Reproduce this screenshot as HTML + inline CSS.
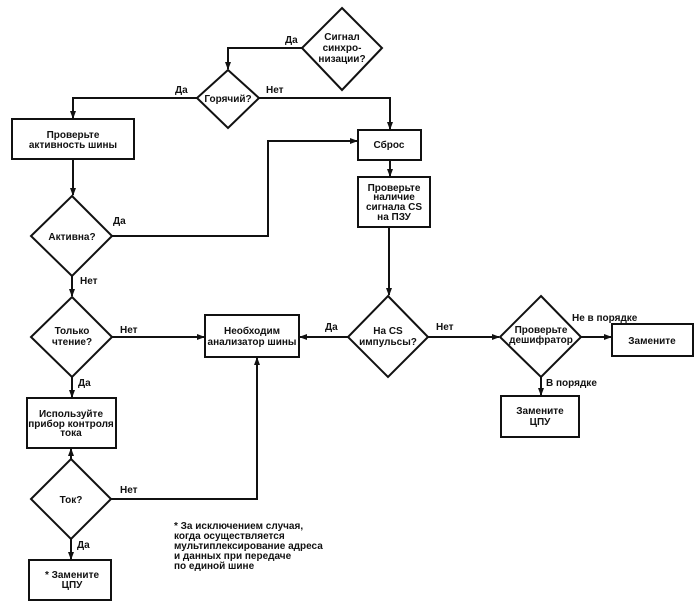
<!DOCTYPE html>
<html><head><meta charset="utf-8"><style>
html,body{margin:0;padding:0;background:#fff;}
svg{display:block;}
text{font-family:"Liberation Sans",sans-serif;font-size:10px;font-weight:bold;fill:#111;}
</style></head><body>
<svg width="700" height="607" viewBox="0 0 700 607" xmlns="http://www.w3.org/2000/svg">
<defs><marker id="a" markerWidth="8" markerHeight="8" refX="7" refY="4" orient="auto" markerUnits="userSpaceOnUse"><path d="M0,1 L8,4 L0,7 z" fill="#111"/></marker></defs>
<g fill="none" stroke="#111" stroke-width="2">
<polygon points="342,8 382,48 342,90 302,48"/>
<polygon points="228,70 259,98 228,128 197,98"/>
<rect x="12" y="119" width="122" height="40"/>
<polygon points="72,196 112,236 72,276 31,236"/>
<rect x="358" y="130" width="63" height="30"/>
<rect x="358" y="177" width="72" height="50"/>
<polygon points="388,296 428,337 388,377 348,337"/>
<rect x="205" y="315" width="94" height="42"/>
<polygon points="72,297 112,337 72,377 31,337"/>
<rect x="27" y="398" width="89" height="50"/>
<polygon points="71,459 111,499 71,539 31,499"/>
<rect x="29" y="560" width="82" height="40"/>
<polygon points="541,296 581,337 541,377 500,337"/>
<rect x="612" y="324" width="81" height="32"/>
<rect x="501" y="396" width="78" height="41"/>
<polyline points="302,48 228,48 228,69" marker-end="url(#a)"/>
<polyline points="197,98 73,98 73,118" marker-end="url(#a)"/>
<polyline points="259,98 390,98 390,129" marker-end="url(#a)"/>
<line x1="73" y1="159" x2="73" y2="195" marker-end="url(#a)"/>
<polyline points="112,236 268,236 268,141 357,141" marker-end="url(#a)"/>
<line x1="390" y1="160" x2="390" y2="176" marker-end="url(#a)"/>
<line x1="389" y1="227" x2="389" y2="295" marker-end="url(#a)"/>
<line x1="72" y1="276" x2="72" y2="296" marker-end="url(#a)"/>
<line x1="112" y1="337" x2="204" y2="337" marker-end="url(#a)"/>
<line x1="348" y1="337" x2="300" y2="337" marker-end="url(#a)"/>
<line x1="428" y1="337" x2="499" y2="337" marker-end="url(#a)"/>
<line x1="581" y1="337" x2="611" y2="337" marker-end="url(#a)"/>
<line x1="541" y1="377" x2="541" y2="395" marker-end="url(#a)"/>
<line x1="72" y1="377" x2="72" y2="397" marker-end="url(#a)"/>
<line x1="71" y1="459" x2="71" y2="449" marker-end="url(#a)"/>
<polyline points="111,499 257,499 257,358" marker-end="url(#a)"/>
<line x1="71" y1="539" x2="71" y2="559" marker-end="url(#a)"/>
</g>
<g text-anchor="middle">
<text x="342" y="40">Сигнал</text><text x="342" y="51">синхро-</text><text x="342" y="62">низации?</text>
<text x="228" y="102">Горячий?</text>
<text x="73" y="138">Проверьте</text><text x="73" y="148">активность шины</text>
<text x="72" y="240">Активна?</text>
<text x="389" y="148">Сброс</text>
<text x="394" y="191">Проверьте</text><text x="394" y="200">наличие</text><text x="394" y="210">сигнала CS</text><text x="394" y="220">на ПЗУ</text>
<text x="388" y="334">На CS</text><text x="388" y="345">импульсы?</text>
<text x="252" y="334">Необходим</text><text x="252" y="345">анализатор шины</text>
<text x="72" y="334">Только</text><text x="72" y="345">чтение?</text>
<text x="71" y="417">Используйте</text><text x="71" y="427">прибор контроля</text><text x="71" y="436">тока</text>
<text x="71" y="503">Ток?</text>
<text x="72" y="578">* Замените</text><text x="72" y="588">ЦПУ</text>
<text x="541" y="333">Проверьте</text><text x="541" y="343">дешифратор</text>
<text x="652" y="344">Замените</text>
<text x="540" y="414">Замените</text><text x="540" y="425">ЦПУ</text>
</g>
<text x="285" y="43">Да</text>
<text x="175" y="93">Да</text>
<text x="266" y="93">Нет</text>
<text x="113" y="224">Да</text>
<text x="80" y="284">Нет</text>
<text x="120" y="333">Нет</text>
<text x="325" y="330">Да</text>
<text x="436" y="330">Нет</text>
<text x="572" y="321">Не в порядке</text>
<text x="546" y="386">В порядке</text>
<text x="78" y="386">Да</text>
<text x="120" y="493">Нет</text>
<text x="77" y="548">Да</text>
<g>
<text x="174" y="529">* За исключением случая,</text>
<text x="174" y="539">когда осуществляется</text>
<text x="174" y="549">мультиплексирование адреса</text>
<text x="174" y="559">и данных при передаче</text>
<text x="174" y="569">по единой шине</text>
</g>
</svg>
</body></html>
